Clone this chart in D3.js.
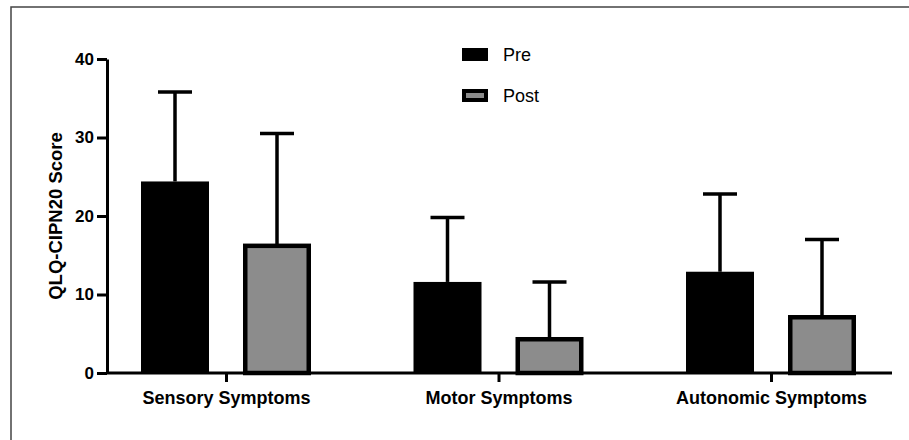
<!DOCTYPE html>
<html>
<head>
<meta charset="utf-8">
<script src="https://cdn.jsdelivr.net/npm/d3@7"></script>
<style>
  body { margin: 0; background: #fff; }
  svg { display: block; font-family: Arial, "Liberation Sans", sans-serif; }
</style>
</head>
<body>
<div id="entry"></div>
<script>
var categories = ['Sensory Symptoms', 'Motor Symptoms', 'Autonomic Symptoms'];
var groups = ['Pre', 'Post'];
var preMean = [24.4, 11.6, 12.9];
var preSD = [11.4, 8.2, 9.9];
var postMean = [16.2, 4.3, 7.1];
var postSD = [14.3, 7.3, 9.9];
var yTicks = [0, 10, 20, 30, 40];

var width = 909, height = 440;

var svg = d3.select('#entry').append('svg')
  .attr('width', width)
  .attr('height', height);

// frame
svg.append('rect')
  .attr('x', 11).attr('y', 7)
  .attr('width', 920).attr('height', 460)
  .attr('fill', 'none')
  .attr('stroke', '#444')
  .attr('stroke-width', 1.5);

var y = d3.scaleLinear().domain([0, 40]).range([373, 59]);
var x = d3.scalePoint().domain(categories).range([226, 771]);
var xInner = d3.scaleBand().domain(groups).range([-85, 85]).paddingInner(1 / 3);

var rows = [];
categories.forEach(function(c, i) {
  rows.push({cat: c, group: 'Pre', mean: preMean[i], sd: preSD[i]});
  rows.push({cat: c, group: 'Post', mean: postMean[i], sd: postSD[i]});
});

var fills = {Pre: '#000', Post: '#8c8c8c'};
var sw = 4.5;

// error bars (upper only)
var err = svg.append('g').attr('stroke', '#000').attr('stroke-width', 3.5);
rows.forEach(function(d) {
  var cx = x(d.cat) + xInner(d.group) + xInner.bandwidth() / 2;
  err.append('line')
    .attr('x1', cx).attr('x2', cx)
    .attr('y1', y(d.mean)).attr('y2', y(d.mean + d.sd));
  err.append('line')
    .attr('x1', cx - 17).attr('x2', cx + 17)
    .attr('y1', y(d.mean + d.sd)).attr('y2', y(d.mean + d.sd));
});

// bars
svg.append('g').selectAll('rect')
  .data(rows)
  .enter()
  .append('rect')
  .attr('x', function(d) { return x(d.cat) + xInner(d.group) + (d.group === 'Post' ? sw / 2 : 0); })
  .attr('width', function(d) { return xInner.bandwidth() - (d.group === 'Post' ? sw : 0); })
  .attr('y', function(d) { return y(d.mean); })
  .attr('height', function(d) { return y(0) - y(d.mean); })
  .attr('fill', function(d) { return fills[d.group]; })
  .attr('stroke', function(d) { return d.group === 'Post' ? '#000' : 'none'; })
  .attr('stroke-width', sw);

// y axis
var yAxis = svg.append('g')
  .attr('transform', 'translate(107,0)')
  .call(d3.axisLeft(y).tickValues(yTicks).tickSize(10).tickPadding(3).tickSizeOuter(0));
yAxis.select('.domain').attr('stroke-width', 3);
yAxis.selectAll('.tick line').attr('stroke-width', 3);
yAxis.selectAll('.tick text')
  .attr('font-size', 17).attr('font-weight', 'bold').attr('fill', '#000')
  .attr('font-family', 'Arial, "Liberation Sans", sans-serif');

// x axis
var xAxis = svg.append('g')
  .attr('transform', 'translate(0,373)')
  .call(d3.axisBottom(x).tickSize(9).tickPadding(9).tickSizeOuter(0));
xAxis.select('.domain').remove();
xAxis.append('line')
  .attr('x1', 107).attr('x2', 892)
  .attr('stroke', '#000').attr('stroke-width', 3);
xAxis.selectAll('.tick line').attr('stroke-width', 3);
xAxis.selectAll('.tick text')
  .attr('font-size', 18).attr('font-weight', 'bold').attr('fill', '#000')
  .attr('font-family', 'Arial, "Liberation Sans", sans-serif');

// y title
svg.append('text')
  .attr('transform', 'translate(62,216) rotate(-90)')
  .attr('text-anchor', 'middle')
  .attr('font-size', 18.5)
  .attr('font-weight', 'bold')
  .text('QLQ-CIPN20 Score');

// legend
var legend = svg.append('g');
groups.forEach(function(g, i) {
  var ly = 48 + i * 41;
  legend.append('rect')
    .attr('x', 462 + (g === 'Post' ? 2 : 0))
    .attr('y', ly + (g === 'Post' ? 2 : 0))
    .attr('width', 26 - (g === 'Post' ? 4 : 0))
    .attr('height', 13 - (g === 'Post' ? 4 : 0))
    .attr('fill', fills[g])
    .attr('stroke', g === 'Post' ? '#000' : 'none')
    .attr('stroke-width', 4);
  legend.append('text')
    .attr('x', 503)
    .attr('y', ly + 13)
    .attr('font-size', 18)
    .text(g);
});
</script>
</body>
</html>
